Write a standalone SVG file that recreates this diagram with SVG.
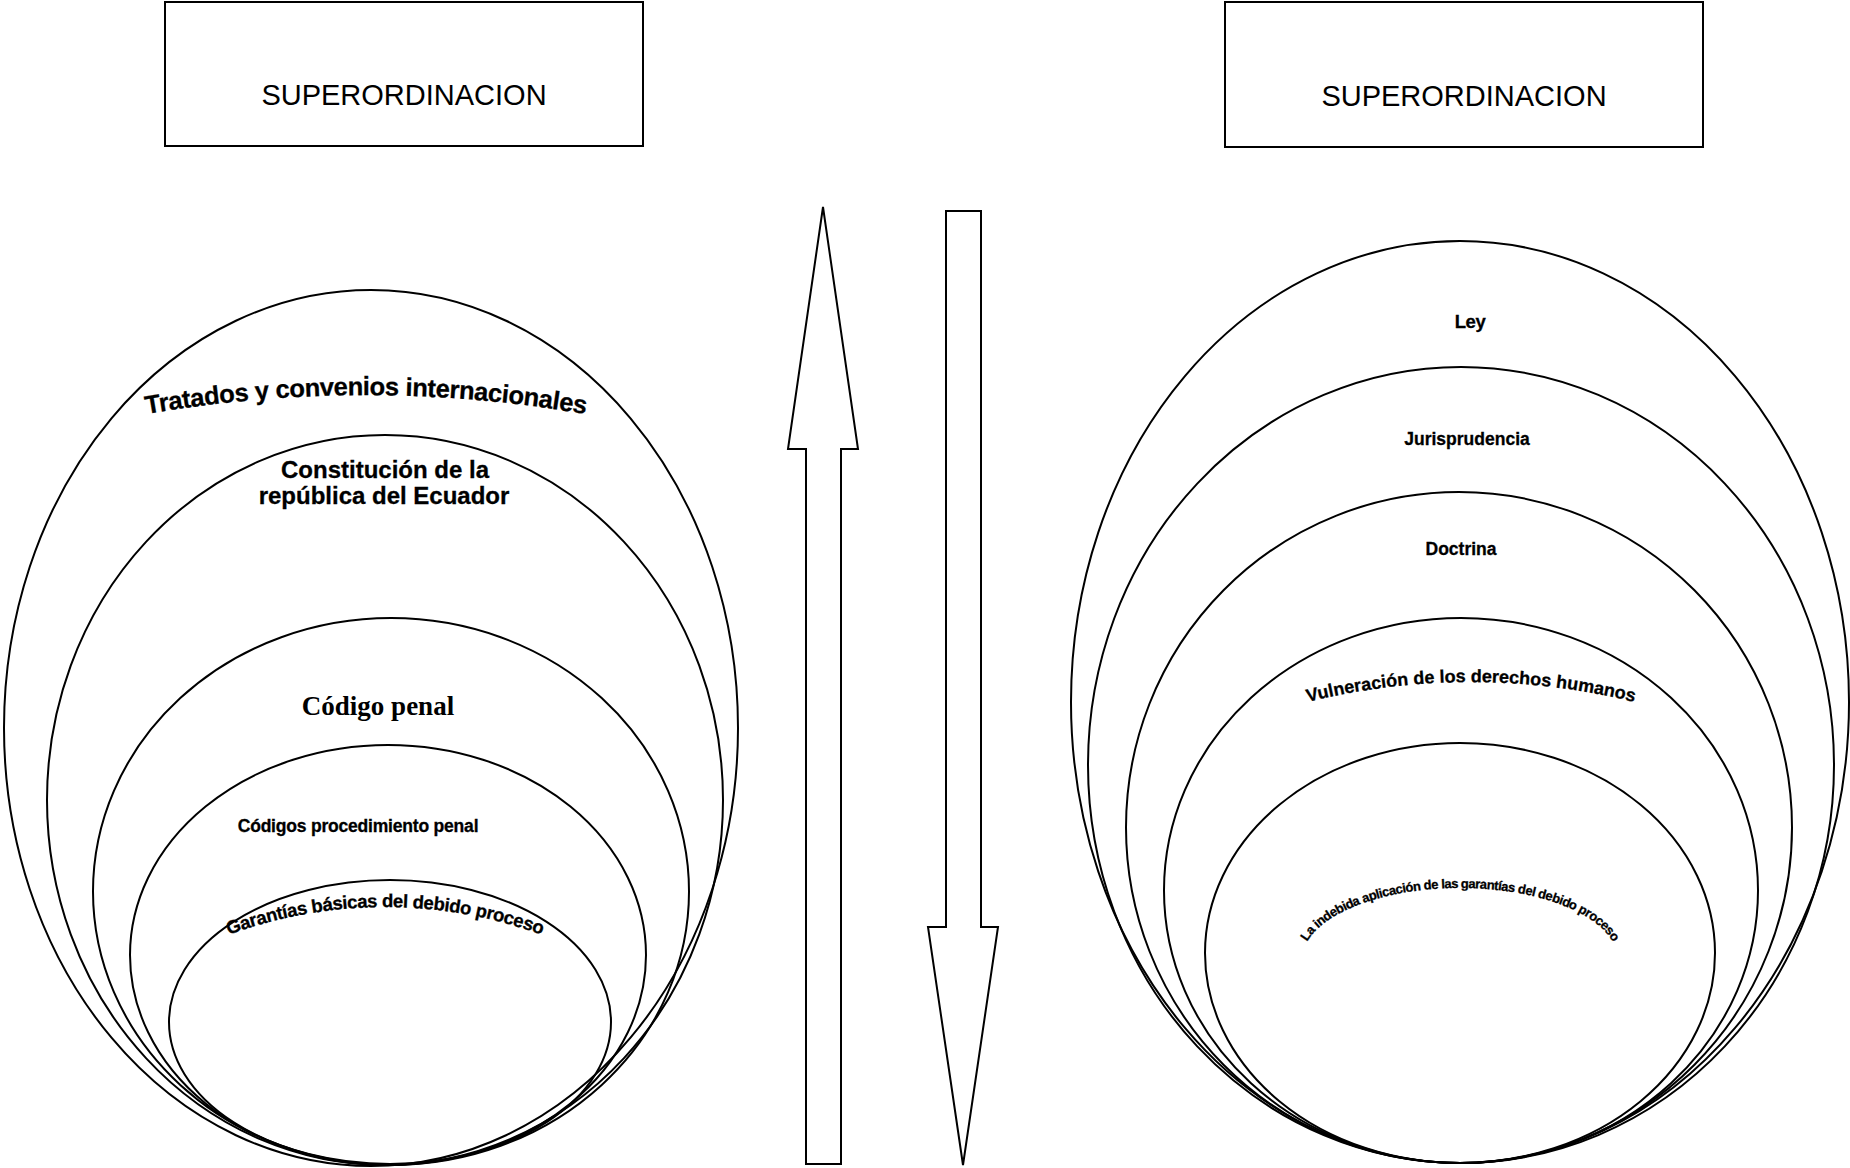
<svg xmlns="http://www.w3.org/2000/svg" width="1850" height="1168" viewBox="0 0 1850 1168">
<style>
.box{fill:#fff;stroke:#000;stroke-width:2}
.ell{fill:none;stroke:#000;stroke-width:2}
.arr{fill:#fff;stroke:#000;stroke-width:2;stroke-linejoin:miter}
.hdr{font-family:"Liberation Sans",Arial,sans-serif;font-size:29px;fill:#000;text-anchor:middle}
.lbl{font-family:"Liberation Sans",Arial,sans-serif;font-weight:bold;fill:#000;stroke:#000;stroke-width:0.3;text-anchor:middle}
.ser{font-family:"Liberation Serif","Times New Roman",serif;font-weight:bold;fill:#000;text-anchor:middle}
</style>
<defs>
<path id="pTrat" d="M 136 416 A 1283 1283 0 0 1 596 416"/>
<path id="pGar" d="M 215 940 A 456 456 0 0 1 555 940"/>
<path id="pVul" d="M 1296 705 A 682 682 0 0 1 1646 705"/>
<path id="pInd" d="M 1302 960 A 158 72 0 0 1 1618 960"/>
</defs>
<rect width="1850" height="1168" fill="#fff"/>

<g id="box-left">
<rect class="box" x="165" y="2" width="478" height="144"/>
<text class="hdr" x="404" y="105">SUPERORDINACION</text>
</g>
<g id="box-right">
<rect class="box" x="1225" y="2" width="478" height="145"/>
<text class="hdr" x="1464" y="106">SUPERORDINACION</text>
</g>

<g id="tratados">
<ellipse class="ell" cx="371" cy="728" rx="367" ry="438"/>
<text class="lbl" font-size="25.5" letter-spacing="-0.4"><textPath href="#pTrat" startOffset="50%">Tratados y convenios internacionales</textPath></text>
</g>
<g id="constitucion">
<ellipse class="ell" cx="385" cy="800" rx="338" ry="365"/>
<text class="lbl" font-size="24" x="385" y="478">Constitución de la</text>
<text class="lbl" font-size="24" x="384" y="504">república del Ecuador</text>
</g>
<g id="codigo-penal">
<ellipse class="ell" cx="391" cy="891.5" rx="298" ry="273.5"/>
<text class="ser" font-size="27" x="378" y="715">Código penal</text>
</g>
<g id="codigos-procedimiento">
<ellipse class="ell" cx="388" cy="955" rx="258" ry="210"/>
<text class="lbl" font-size="17.5" letter-spacing="-0.2" x="358" y="832">Códigos procedimiento penal</text>
</g>
<g id="garantias">
<ellipse class="ell" cx="390" cy="1022" rx="221" ry="142"/>
<text class="lbl" font-size="18.5" letter-spacing="-0.4"><textPath href="#pGar" startOffset="50%">Garantías básicas del debido proceso</textPath></text>
</g>

<g id="ley">
<ellipse class="ell" cx="1460" cy="702" rx="389" ry="461"/>
<text class="lbl" font-size="18.5" letter-spacing="-0.4" x="1470" y="328">Ley</text>
</g>
<g id="jurisprudencia">
<ellipse class="ell" cx="1461" cy="765" rx="373" ry="398"/>
<text class="lbl" font-size="17.5" x="1467" y="445">Jurisprudencia</text>
</g>
<g id="doctrina">
<ellipse class="ell" cx="1459" cy="827.5" rx="333" ry="335.5"/>
<text class="lbl" font-size="17.5" x="1461" y="555">Doctrina</text>
</g>
<g id="vulneracion">
<ellipse class="ell" cx="1461" cy="890.5" rx="297" ry="272.5"/>
<text class="lbl" font-size="18"><textPath href="#pVul" startOffset="50%">Vulneración de los derechos humanos</textPath></text>
</g>
<g id="indebida">
<ellipse class="ell" cx="1460" cy="953" rx="255" ry="210"/>
<text class="lbl" font-size="13" letter-spacing="-0.5"><textPath href="#pInd" startOffset="50%">La indebida aplicación de las garantías del debido proceso</textPath></text>
</g>

<g id="connectors">
<polygon class="arr" points="823,207 858,449 841,449 841,1164 806,1164 806,449 788,449"/>
<polygon class="arr" points="946,211 981,211 981,927 998,927 963,1165 928,927 946,927"/>
</g>
</svg>
